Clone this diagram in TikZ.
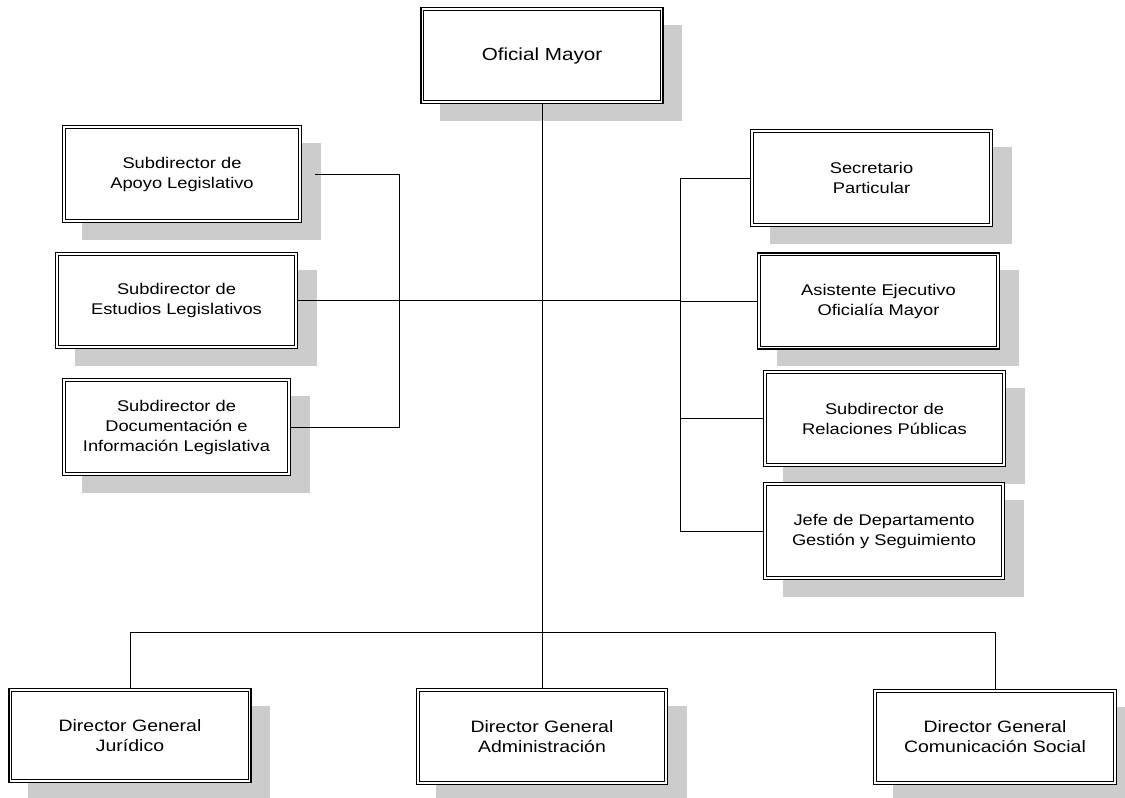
\documentclass[tikz,border=0pt]{standalone}
\usepackage{fontspec}
\setmainfont[FakeStretch=1.18]{Liberation Sans}
\usetikzlibrary{shadows,calc}
\begin{document}
\begin{tikzpicture}[x=1pt,y=-1pt,
  orgbox/.style={draw=black, line width=1.4pt,
    fill=white, align=center, inner sep=0pt, font=\fontsize{15.5}{20}\selectfont,
    drop shadow={shadow xshift=19pt, shadow yshift=-17pt, fill=black!20, opacity=1}},
  innerline/.style={draw=black, line width=1pt},
  link/.style={draw=black, line width=1pt}]
\useasboundingbox (0,0) rectangle (1125,798);
% top
\node[orgbox, font=\fontsize{17.5}{20}\selectfont, minimum width=242pt, minimum height=96pt] (om) at (542,55.5) {Oficial Mayor};
% left column
\node[orgbox, minimum width=239pt, minimum height=97pt] (apoyo) at (182,174) {Subdirector de\\Apoyo Legislativo};
\node[orgbox, minimum width=242pt, minimum height=96pt] (estudios) at (176.5,300.5) {Subdirector de\\Estudios Legislativos};
\node[orgbox, minimum width=228pt, minimum height=97pt] (doc) at (176.5,427) {Subdirector de\\Documentación e\\Información Legislativa};
% right column
\node[orgbox, minimum width=242pt, minimum height=97pt] (sec) at (871.5,178) {Secretario\\Particular};
\node[orgbox, minimum width=242pt, minimum height=96pt] (asis) at (878.5,301) {Asistente Ejecutivo\\Oficialía Mayor};
\node[orgbox, minimum width=242pt, minimum height=96pt] (rel) at (884.5,418.5) {Subdirector de\\Relaciones Públicas};
\node[orgbox, minimum width=241pt, minimum height=97pt] (jefe) at (884,531) {Jefe de Departamento\\Gestión y Seguimiento};
% bottom row
\node[orgbox, font=\fontsize{16.5}{20}\selectfont, minimum width=242pt, minimum height=94pt] (jur) at (130,735.5) {Director General\\Jurídico};
\node[orgbox, font=\fontsize{16.5}{20}\selectfont, minimum width=251pt, minimum height=96pt] (adm) at (542,736.5) {Director General\\Administración};
\node[orgbox, font=\fontsize{16.5}{20}\selectfont, minimum width=243pt, minimum height=95pt] (com) at (995,737) {Director General\\Comunicación Social};
% inner frames
\foreach \n in {om,apoyo,estudios,doc,sec,asis,rel,jefe,jur,adm,com}
  \draw[innerline] ($(\n.south west)+(3.6,-3.6)$) rectangle ($(\n.north east)+(-3.6,3.6)$);
% connectors
\coordinate (busL) at (399,0);
\coordinate (busR) at (680,0);
\coordinate (busB) at (0,632);
\draw[link] (om.south) -- (adm.north);
\draw[link] (jur.north) -- (jur.north |- busB) -- (com.north |- busB) -- (com.north);
\draw[link] ($(apoyo.east)+(13,0)$) -- (apoyo.east -| busL) -- (doc.east -| busL) -- (doc.east);
\draw[link] (estudios.east) -- (estudios.east -| busR);
\draw[link] (sec.west) -- (sec.west -| busR) -- (jefe.west -| busR) -- (jefe.west);
\draw[link] (asis.west) -- (asis.west -| busR);
\draw[link] (rel.west) -- (rel.west -| busR);
\end{tikzpicture}
\end{document}
